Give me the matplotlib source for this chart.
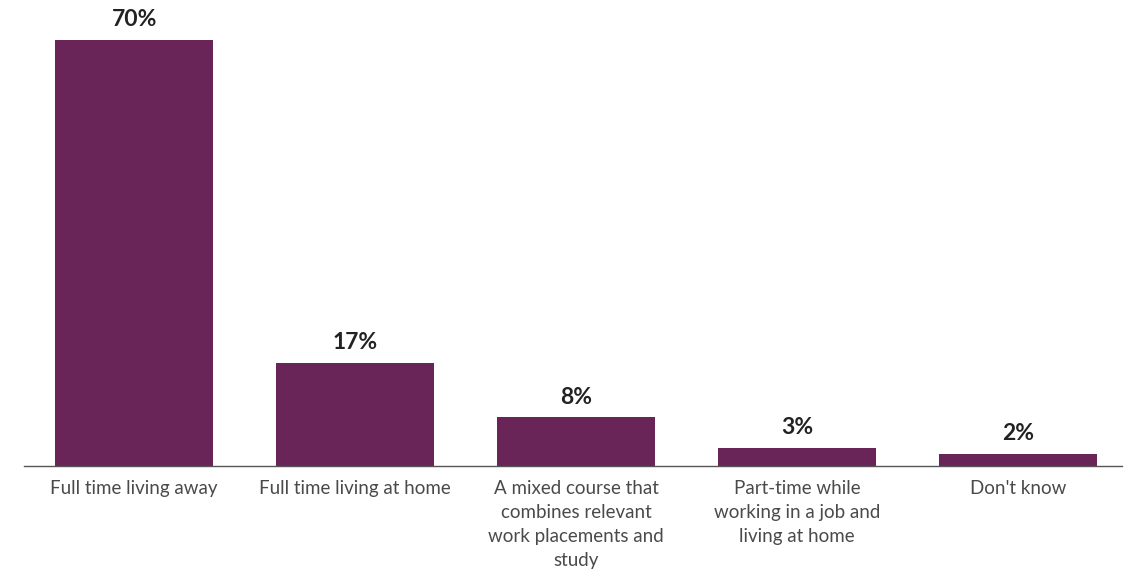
import matplotlib
matplotlib.use("Agg")
import matplotlib.pyplot as plt

categories = [
    "Full time living away",
    "Full time living at home",
    "A mixed course that\ncombines relevant\nwork placements and\nstudy",
    "Part-time while\nworking in a job and\nliving at home",
    "Don't know",
]
values = [70, 17, 8, 3, 2]
value_labels = ["70%", "17%", "8%", "3%", "2%"]

bar_color = "#6A2558"

fig = plt.figure(figsize=(11.32, 5.76), dpi=100)
ax = fig.add_axes([24/1132, 1-466/576, (1122-24)/1132, (466-40)/576])

x = list(range(len(categories)))
ax.bar(x, values, width=0.715, color=bar_color, zorder=2)
ax.set_xlim(-0.498, 4.47)
ax.set_ylim(0, 70)

for xi, v, lab in zip(x, values, value_labels):
    ax.annotate(lab, (xi, v), xytext=(0, 7), textcoords="offset points",
                ha="center", va="bottom", fontsize=16.5, fontweight="bold",
                family=["Lato", "DejaVu Sans"], color="#222222")

ax.set_xticks(x)
ax.set_xticklabels(categories, fontsize=13.5, family=["Lato", "DejaVu Sans"],
                   fontweight="normal", color="#4a4a4a", linespacing=1.5, va="top")
ax.tick_params(axis="x", length=0, pad=10)
ax.set_yticks([])
for s in ["top", "right", "left"]:
    ax.spines[s].set_visible(False)
ax.spines["bottom"].set_color("#555555")
ax.spines["bottom"].set_linewidth(1.0)
ax.spines["bottom"].set_zorder(3)

fig.savefig("out.png", dpi=100, facecolor="white")
